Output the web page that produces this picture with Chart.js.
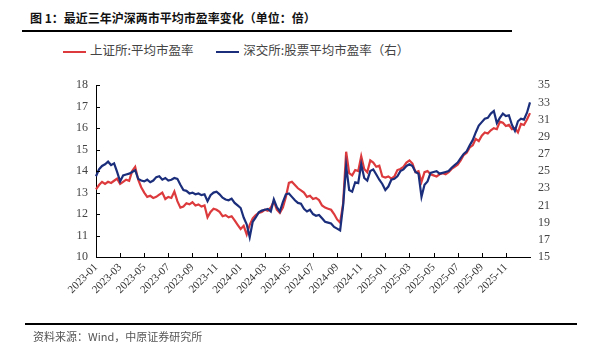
<!DOCTYPE html>
<html>
<head>
<meta charset="utf-8">
<script src="https://cdn.jsdelivr.net/npm/chart.js@4/dist/chart.umd.min.js"></script>
<style>
  body { margin: 0; background: #fff; }
  #page { position: relative; width: 589px; height: 361px; overflow: hidden; font-family: "Noto Sans CJK SC", sans-serif; }
  #title { position: absolute; left: 30px; top: 9px; font-size: 12px; font-weight: bold; color: #111; }
  .rule { position: absolute; height: 2px; background: #000; }
  #legend { position: absolute; left: 63px; top: 40px; font-size: 12.5px; color: #444; white-space: nowrap; }
  .item { display: inline-block; margin-right: 20px; }
  .swatch { display: inline-block; width: 23px; height: 2px; vertical-align: middle; margin-right: 4px; }
  #source { position: absolute; left: 33px; top: 328px; font-size: 11px; color: #555; }
  #wrap { position: absolute; left: 0; top: 70px; width: 589px; height: 270px; }
</style>
</head>
<body>
<div id="page">
  <div id="title">图 1：最近三年沪深两市平均市盈率变化（单位：倍）</div>
  <div class="rule" style="left:22px; top:30px; width:490px;"></div>
  <div id="legend">
    <span class="item"><span class="swatch" style="background:#DC3A3C"></span>上证所:平均市盈率</span>
    <span class="item"><span class="swatch" style="background:#1B2E7C"></span>深交所:股票平均市盈率（右）</span>
  </div>
  <div id="wrap"><canvas id="myChart"></canvas></div>
  <div class="rule" style="left:25px; top:323px; width:552px;"></div>
  <div id="source">资料来源：Wind，中原证券研究所</div>
</div>
<script>
// weekly points, 2023-01 .. end of 2025-12
let weeks = [];
for (let y = 2023; y <= 2025; y++) {
  for (let m = 1; m <= 12; m++) {
    for (let w = 0; w < 4; w++) {
      weeks.push(y + "-" + String(m).padStart(2, "0"));
    }
  }
}
weeks.push("2026-01");

const tickLabels = ["2023-01", "2023-03", "2023-05", "2023-07", "2023-09", "2023-11",
  "2024-01", "2024-03", "2024-05", "2024-07", "2024-09", "2024-11",
  "2025-01", "2025-03", "2025-05", "2025-07", "2025-09", "2025-11"];

// 上证所 平均市盈率 (left axis)
const ssePE = [
  13.15, 13.35, 13.5, 13.4, 13.5, 13.45, 13.55, 13.65, 13.4, 13.5, 13.6, 13.55,
  14.0, 14.2, 13.6, 13.25, 13.0, 12.8, 12.85, 12.75, 12.8, 12.9, 13.0, 12.7,
  12.8, 12.75, 13.05, 12.6, 12.3, 12.35, 12.5, 12.45, 12.55, 12.4, 12.45, 12.35,
  12.4, 11.85, 12.1, 12.25, 12.2, 12.1, 11.9, 11.95, 11.85, 11.9, 11.7, 11.5,
  11.3, 11.45, 11.05, 11.5, 11.8, 11.95, 12.05, 12.1, 12.2, 12.15, 12.3, 12.6,
  12.2, 12.05, 12.3, 12.8, 13.45, 13.5, 13.35, 13.2, 13.1, 13.0, 12.8, 12.85,
  12.7, 12.75, 12.65, 12.4, 12.3, 12.25, 12.2, 12.0, 11.75, 11.6, 12.5, 14.9,
  13.9, 13.8, 14.05, 14.0, 14.7, 14.1, 13.95, 14.5, 14.4, 14.2, 14.25, 13.75,
  13.7, 13.75, 13.65, 13.75, 14.05, 14.1, 14.2, 14.4, 14.5, 14.35, 13.95, 14.0,
  13.5, 13.95, 14.0, 13.85, 13.8, 13.75, 13.85, 13.9, 13.85, 13.95, 14.1, 14.2,
  14.3, 14.5, 14.75, 14.85, 15.1, 15.2, 15.5, 15.4, 15.65, 15.8, 15.75, 15.9,
  16.0, 15.95, 16.3, 16.25, 16.1, 16.15, 15.95, 16.0, 15.8, 16.2, 16.15, 16.4,
  16.7
];

// 深交所 股票平均市盈率 (right axis)
const szsePE = [
  24.4, 25.2, 25.6, 25.8, 26.1, 25.7, 25.9, 24.9, 23.8, 24.5, 24.6, 24.7,
  24.9, 25.1, 24.1, 23.9, 23.8, 24.0, 23.7, 23.9, 24.3, 24.4, 24.0, 24.2,
  23.9, 24.0, 24.2, 24.1, 23.4, 22.8, 22.7, 22.4, 22.5, 22.3, 22.4, 22.2,
  22.3, 21.5, 22.2, 22.5, 22.6, 22.3, 21.9, 21.7, 21.6, 21.8, 21.3, 21.0,
  20.7, 19.6, 18.8, 17.3, 19.1, 19.6, 20.2, 20.4, 20.5, 20.6, 20.3, 21.7,
  20.8, 20.3, 21.4, 22.3, 22.4, 22.0, 21.6, 21.3, 21.2, 20.6, 20.3, 20.5,
  20.0, 19.8, 19.9, 19.5, 19.1, 19.0, 18.9, 18.5, 18.3, 18.1, 21.0, 25.6,
  22.8, 22.6, 23.7, 23.6, 25.8, 24.2, 23.9, 25.0, 25.2, 24.6, 24.0, 23.5,
  22.8, 23.2, 24.0, 24.1, 24.4, 25.0, 25.2, 25.6, 25.8, 25.6, 24.9, 24.7,
  22.0, 23.4, 23.8, 24.8, 24.9, 25.0, 24.7, 24.8, 24.9, 25.0, 25.4, 25.7,
  26.0, 26.5, 27.0, 27.3, 28.0, 28.6, 29.5, 30.3, 30.7, 31.1, 31.2, 31.7,
  32.0, 30.6, 31.2, 31.7, 31.4, 31.5, 30.4, 29.7, 30.8, 31.1, 31.0, 31.8,
  33.0
];

// tick marks pointing into the plot
const innerTicks = {
  id: "innerTicks",
  afterDraw(chart) {
    let ctx = chart.ctx;
    let area = chart.chartArea;
    let yl = chart.scales.y;
    let x = chart.scales.x;
    ctx.save();
    ctx.strokeStyle = "#000";
    ctx.lineWidth = 1;
    ctx.beginPath();
    yl.ticks.forEach((t) => {
      let py = Math.round(yl.getPixelForValue(t.value)) + 0.5;
      ctx.moveTo(area.left, py);
      ctx.lineTo(area.left + 4, py);
    });
    for (let i = 8; i < weeks.length - 1; i += 8) {
      let px = Math.round(x.getPixelForValue(i)) + 0.5;
      ctx.moveTo(px, area.bottom);
      ctx.lineTo(px, area.bottom - 4);
    }
    ctx.stroke();
    ctx.restore();
  },
};

const tickFont = { family: "'Liberation Serif', serif", size: 12 };

new Chart(document.getElementById("myChart"), {
  type: "line",
  data: {
    labels: weeks,
    datasets: [
      {
        label: "上证所:平均市盈率",
        data: ssePE,
        yAxisID: "y",
        borderColor: "#DC3A3C",
        borderWidth: 2.2,
        pointRadius: 0,
        order: 1,
      },
      {
        label: "深交所:股票平均市盈率（右）",
        data: szsePE,
        yAxisID: "y2",
        borderColor: "#1B2E7C",
        borderWidth: 2.2,
        pointRadius: 0,
        order: 0,
      },
    ],
  },
  options: {
    responsive: true,
    maintainAspectRatio: false,
    animation: false,
    layout: { padding: { top: 11, left: 0, right: 0, bottom: 0 } },
    plugins: { legend: { display: false }, tooltip: { enabled: false } },
    scales: {
      x: {
        grid: { display: false, drawTicks: false },
        border: { color: "#000", width: 1 },
        afterFit: (scale) => { scale.height = 83; },
        ticks: {
          autoSkip: false,
          minRotation: 45,
          maxRotation: 45,
          padding: 4,
          color: "#333",
          font: { family: "'Liberation Serif', serif", size: 11 },
          callback: (val, idx) => (idx % 8 === 0 && idx < 144 ? tickLabels[idx / 8] : ""),
        },
      },
      y: {
        position: "left",
        min: 10,
        max: 18,
        grid: { display: false, drawTicks: false },
        border: { color: "#000", width: 1 },
        afterFit: (scale) => { scale.width = 96; },
        ticks: { stepSize: 1, autoSkip: false, padding: 8, color: "#444", font: tickFont },
      },
      y2: {
        position: "right",
        min: 15,
        max: 35,
        grid: { display: false, drawTicks: false },
        border: { display: false },
        afterFit: (scale) => { scale.width = 59; },
        ticks: { stepSize: 2, autoSkip: false, padding: 8, color: "#444", font: tickFont },
      },
    },
  },
  plugins: [innerTicks],
});
</script>
</body>
</html>
